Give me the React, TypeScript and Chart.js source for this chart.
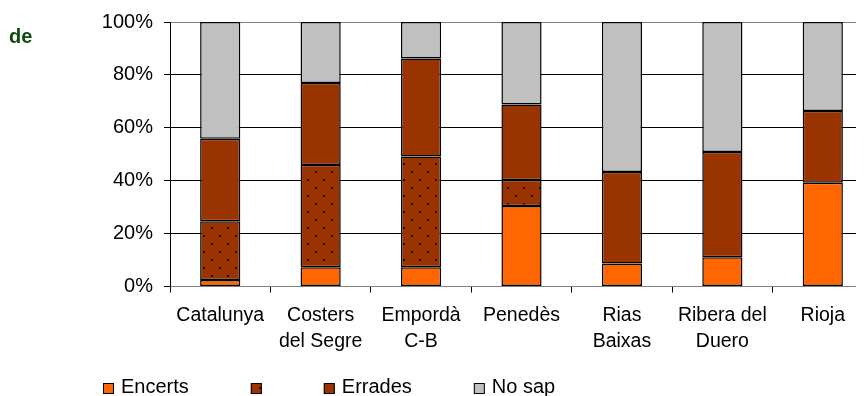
import React, { useEffect, useRef } from "react";
import { Chart, registerables } from "chart.js";

Chart.register(...registerables);

// Denominations (multi-line tick labels)
const categories: string[][] = [
  ["Catalunya"],
  ["Costers", "del Segre"],
  ["Empordà", "C-B"],
  ["Penedès"],
  ["Rias", "Baixas"],
  ["Ribera del", "Duero"],
  ["Rioja"],
];

// Shares of answers, in percent
const encerts = [2.5, 7.3, 7.3, 30.4, 8.7, 11.1, 39.2];
const parcials = [22.2, 38.6, 41.9, 9.9, 0, 0, 0];
const errades = [31.2, 31.0, 37.0, 28.5, 34.6, 39.8, 27.2];
const noSap = [44.1, 23.1, 13.8, 31.2, 56.7, 49.1, 33.6];

const yTicks = [0, 20, 40, 60, 80, 100];

const seriesLabels = ["Encerts", "", "Errades", "No sap"];

const FONT = "'Liberation Sans', Arial, sans-serif";

function dottedPattern(): CanvasPattern | string {
  const c = document.createElement("canvas");
  c.width = 16;
  c.height = 16;
  const g = c.getContext("2d");
  if (!g) return "#993300";
  g.fillStyle = "#993300";
  g.fillRect(0, 0, 16, 16);
  g.fillStyle = "#2a0a00";
  g.fillRect(3, 3, 2, 2);
  g.fillRect(11, 11, 2, 2);
  return g.createPattern(c, "repeat") || "#993300";
}

// Legend row drawn under the axis, plus the green heading fragment
const extrasPlugin = {
  id: "extras",
  afterDraw(chart: any) {
    const ctx: CanvasRenderingContext2D = chart.ctx;
    ctx.save();
    // heading fragment
    ctx.font = `bold 20px ${FONT}`;
    ctx.fillStyle = "#0f4d0f";
    ctx.textBaseline = "alphabetic";
    ctx.textAlign = "left";
    ctx.fillText("de", 1, 35);

    // legend
    ctx.font = `20px ${FONT}`;
    ctx.textBaseline = "middle";
    const box = 11;
    const gap = 62;
    let x = 95;
    const top = 375;
    chart.data.datasets.forEach((ds: any) => {
      ctx.fillStyle = ds.backgroundColor;
      ctx.fillRect(x, top, box, box);
      ctx.strokeStyle = "#000";
      ctx.lineWidth = 1;
      ctx.strokeRect(x + 0.5, top + 0.5, box - 1, box - 1);
      let w = box;
      if (ds.label) {
        ctx.fillStyle = "#000";
        ctx.fillText(ds.label, x + box + 7, top + box / 2 - 1);
        w += 7 + ctx.measureText(ds.label).width;
      }
      x += w + gap;
    });
    ctx.restore();
  },
};

export default function App() {
  const ref = useRef<HTMLCanvasElement | null>(null);

  useEffect(() => {
    if (!ref.current) return;
    const dots = dottedPattern();
    const colors = ["#ff6600", dots, "#993300", "#c0c0c0"];
    const values = [encerts, parcials, errades, noSap];
    const chart = new Chart(ref.current, {
      type: "bar",
      data: {
        labels: categories,
        datasets: values.map((v, i) => ({
          label: seriesLabels[i],
          data: v,
          backgroundColor: colors[i] as any,
          borderColor: "#000",
          borderWidth: 1.5,
          borderSkipped: false,
          categoryPercentage: 1,
          barPercentage: 0.4,
        })),
      },
      options: {
        responsive: false,
        animation: false,
        devicePixelRatio: 1,
        layout: { padding: { left: 0, right: 7, top: 14, bottom: 32 } },
        plugins: {
          legend: { display: false },
          tooltip: { enabled: false },
          title: { display: false },
        },
        scales: {
          x: {
            stacked: true,
            grid: {
              drawOnChartArea: false,
              drawTicks: true,
              tickLength: 6,
              color: "#000",
              offset: true,
            },
            border: { color: "#808080", width: 1 },
            ticks: {
              color: "#000",
              padding: 10,
              maxRotation: 0,
              autoSkip: false,
              font: { family: FONT, size: 19.5, lineHeight: 1.32 },
            },
          },
          y: {
            stacked: true,
            min: 0,
            max: 100,
            afterFit: (scale: any) => {
              scale.width = 162;
              scale.paddingTop = 0;
              scale.paddingBottom = 0;
            },
            afterBuildTicks: (scale: any) => {
              scale.ticks = yTicks.map((v) => ({ value: v }));
            },
            grid: {
              color: (c: any) =>
                c.tick && (c.tick.value === 0 || c.tick.value === 100) ? "#808080" : "#000",
              tickColor: "#000",
              tickLength: 6,
              lineWidth: 1,
            },
            border: { color: "#000", width: 1 },
            ticks: {
              color: "#000",
              padding: 11,
              font: { family: FONT, size: 20 },
              callback: (v: any) => `${v}%`,
            },
          },
        },
      },
      plugins: [extrasPlugin],
    });
    return () => chart.destroy();
  }, []);

  return (
    <div style={{ width: 856, height: 388, overflow: "hidden" }}>
      <canvas
        ref={ref}
        width={872}
        height={388}
        style={{ display: "block", width: 872, height: 388 }}
      />
    </div>
  );
}
